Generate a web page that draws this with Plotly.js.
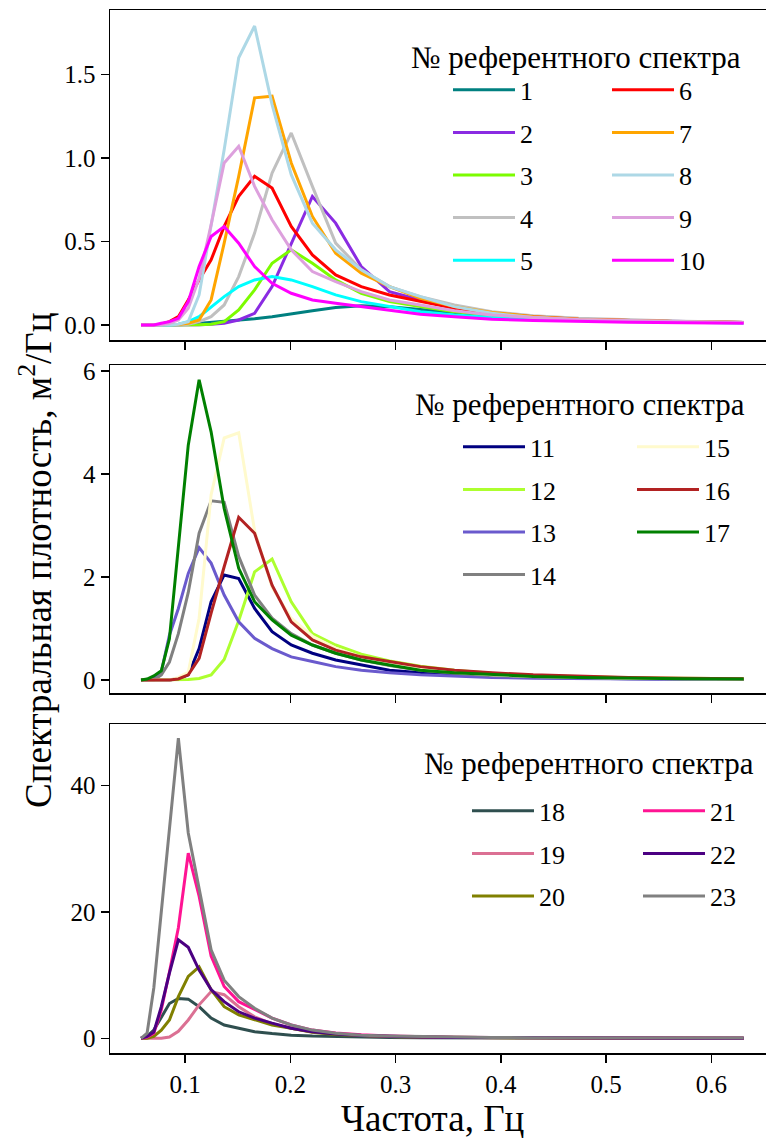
<!DOCTYPE html>
<html>
<head>
<meta charset="utf-8">
<script src="https://cdn.plot.ly/plotly-3.0.1.min.js"></script>
<style>html,body{margin:0;padding:0;background:#fff;}#chart{width:766px;height:1138px;}</style>
</head>
<body>
<div id="chart"></div>
<script>
// Frequencies, Hz
const freq = [0.0582, 0.0640, 0.0704, 0.0775, 0.0852, 0.0937, 0.1031, 0.1134, 0.1248, 0.1372, 0.1510, 0.1661, 0.1827, 0.2009, 0.2210, 0.2431, 0.2674, 0.2942, 0.3236, 0.3559, 0.3915, 0.4307, 0.4738, 0.5211, 0.5733, 0.6306];

// Panel 1: spectra 1-10
const s1  = [0,0,0,0,0,0.002,0.005,0.01,0.015,0.02,0.028,0.038,0.05,0.065,0.085,0.105,0.115,0.11,0.095,0.075,0.055,0.042,0.033,0.026,0.02,0.015];
const s2  = [0,0,0,0,0,0,0,0.002,0.005,0.01,0.03,0.07,0.23,0.49,0.77,0.61,0.35,0.2,0.15,0.1,0.07,0.05,0.035,0.027,0.02,0.015];
const s3  = [0,0,0,0,0,0,0,0.002,0.005,0.02,0.09,0.21,0.37,0.45,0.37,0.27,0.19,0.14,0.11,0.08,0.06,0.045,0.035,0.027,0.02,0.015];
const s4  = [0,0,0,0,0,0,0.005,0.02,0.05,0.12,0.29,0.55,0.91,1.15,0.83,0.49,0.33,0.23,0.17,0.12,0.08,0.055,0.04,0.03,0.022,0.016];
const s5  = [0,0,0,0,0,0.005,0.02,0.05,0.11,0.17,0.23,0.27,0.29,0.27,0.23,0.18,0.14,0.11,0.08,0.06,0.045,0.035,0.027,0.021,0.016,0.012];
const s6  = [0,0,0,0.005,0.02,0.05,0.15,0.27,0.39,0.59,0.77,0.89,0.82,0.59,0.42,0.30,0.23,0.18,0.14,0.10,0.07,0.05,0.035,0.027,0.02,0.015];
const s7  = [0,0,0,0,0,0.003,0.01,0.03,0.15,0.49,0.89,1.36,1.37,0.97,0.65,0.43,0.31,0.23,0.16,0.11,0.075,0.05,0.035,0.027,0.02,0.015];
const s8  = [0,0,0,0,0,0.005,0.02,0.18,0.6,1.05,1.6,1.79,1.32,0.90,0.61,0.45,0.33,0.23,0.17,0.11,0.07,0.045,0.03,0.024,0.018,0.014];
const s9  = [0,0,0,0,0.01,0.03,0.1,0.28,0.6,0.97,1.07,0.83,0.63,0.45,0.32,0.26,0.2,0.15,0.12,0.085,0.06,0.045,0.033,0.026,0.02,0.015];
const s10 = [0,0,0,0.01,0.02,0.04,0.14,0.35,0.53,0.59,0.49,0.35,0.25,0.19,0.15,0.13,0.11,0.085,0.065,0.05,0.035,0.027,0.02,0.016,0.013,0.01];

// Panel 2: spectra 11-17
const s11 = [0,0,0,0,0,0.03,0.1,0.61,1.52,2.04,1.97,1.39,0.94,0.68,0.52,0.39,0.29,0.19,0.14,0.1,0.07,0.05,0.035,0.025,0.018,0.013];
const s12 = [0,0,0,0,0,0,0.01,0.03,0.1,0.4,1.15,2.1,2.35,1.52,0.9,0.68,0.5,0.37,0.27,0.19,0.13,0.09,0.065,0.045,0.032,0.023];
const s13 = [0,0,0.03,0.16,0.87,1.39,2.07,2.57,2.27,1.65,1.13,0.81,0.61,0.45,0.36,0.26,0.19,0.14,0.1,0.07,0.05,0.035,0.025,0.018,0.013,0.009];
const s14 = [0,0,0,0.1,0.35,0.9,1.7,2.85,3.48,3.45,2.4,1.65,1.2,0.9,0.68,0.52,0.39,0.28,0.19,0.13,0.09,0.065,0.045,0.032,0.023,0.016];
const s15 = [0,0,0,0,0,0.05,0.15,1.2,3.6,4.7,4.8,2.9,1.8,1.2,0.85,0.62,0.45,0.32,0.22,0.15,0.1,0.07,0.05,0.035,0.025,0.018];
const s16 = [0,0,0,0,0,0.02,0.1,0.42,1.3,2.2,3.16,2.85,1.84,1.13,0.78,0.58,0.45,0.36,0.26,0.19,0.14,0.1,0.07,0.05,0.035,0.025];
const s17 = [0,0.02,0.08,0.18,0.8,2.6,4.56,5.83,4.82,3.33,2.17,1.52,1.17,0.87,0.68,0.52,0.39,0.29,0.19,0.14,0.1,0.07,0.05,0.035,0.025,0.018];

// Panel 3: spectra 18-23
const s18 = [0,0.3,1.3,3.4,5.5,6.3,6.2,5.0,3.2,2.1,1.6,1.05,0.75,0.5,0.35,0.25,0.17,0.12,0.09,0.06,0.045,0.035,0.025,0.02,0.015,0.01];
const s19 = [0,0,0,0,0.2,1.1,2.9,5.3,7.4,6.9,5.0,3.4,2.3,1.6,1.0,0.7,0.45,0.3,0.2,0.14,0.1,0.07,0.05,0.035,0.025,0.018];
const s20 = [0,0,0.3,1.3,2.9,6.6,9.8,11.3,7.7,5.0,3.7,2.9,2.1,1.6,0.95,0.6,0.4,0.28,0.2,0.14,0.1,0.07,0.05,0.035,0.025,0.018];
const s21 = [0,0.2,0.8,4.5,10.5,17.5,29.3,22.5,13,8.2,5.8,4.5,3.2,2.1,1.3,0.85,0.55,0.37,0.25,0.17,0.12,0.085,0.06,0.045,0.032,0.023];
const s22 = [0,0.3,1,5,10.3,15.6,14.4,10.8,7.7,5.8,4.2,3.2,2.4,1.6,1.05,0.7,0.45,0.3,0.2,0.14,0.1,0.07,0.05,0.035,0.025,0.018];
const s23 = [0,0.8,8,20,33,47.5,32.5,24,14,9.2,6.6,4.75,3.2,2.1,1.3,0.8,0.5,0.35,0.25,0.18,0.13,0.1,0.07,0.05,0.04,0.03];

const names1 = ['1','2','3','4','5','6','7','8','9','10'];
const names2 = ['11','12','13','14','15','16','17'];
const names3 = ['18','19','20','21','22','23'];
const colors1 = ['#008080','#8a2be2','#7cfc00','#c0c0c0','#00ffff','#ff0000','#ffa500','#add8e6','#dda0dd','#ff00ff'];
const colors2 = ['#000080','#adff2f','#6a5acd','#808080','#fffacd','#b22222','#008000'];
const colors3 = ['#2f4f4f','#db7093','#808000','#ff1493','#4b0082','#808080'];
const series1 = [s1,s2,s3,s4,s5,s6,s7,s8,s9,s10];
const series2 = [s11,s12,s13,s14,s15,s16,s17];
const series3 = [s18,s19,s20,s21,s22,s23];
const legendTitle = '№ референтного спектра';
const xTitle = 'Частота, Гц';
const yTitle = 'Спектральная плотность, м<sup>2</sup>/Гц';
const xTicks = [0.1,0.2,0.3,0.4,0.5,0.6];

const FONT = 'Liberation Serif';
const traces = [];
function addPanel(series, names, colors, xa, ya, legA, legB, split) {
  series.forEach((s, i) => {
    traces.push({
      x: freq, y: s, type: 'scatter', mode: 'lines', name: names[i],
      xaxis: xa, yaxis: ya,
      line: {color: colors[i], width: 3},
      legend: i < split ? legA : legB,
      legendgroup: 'g' + names[i]
    });
  });
}
addPanel(series1, names1, colors1, 'x', 'y', 'legend', 'legend2', 5);
addPanel(series2, names2, colors2, 'x2', 'y2', 'legend3', 'legend4', 4);
addPanel(series3, names3, colors3, 'x3', 'y3', 'legend5', 'legend6', 3);

const H = 1138, W = 766, L = 110;
const px = v => (v - L) / (W - L);
const py = v => 1 - v / H;

const xBase = {
  range: [0.02877, 0.6518], tickvals: xTicks, ticktext: xTicks.map(v => v.toFixed(1)),
  ticks: 'outside', ticklen: 8, tickwidth: 1.5, tickcolor: '#000',
  showline: true, linecolor: '#000', linewidth: 1.5, mirror: true,
  showgrid: false, zeroline: false, showticklabels: false,
  tickfont: {family: FONT, size: 25, color: '#000'}
};
const yBase = {
  ticks: 'outside', ticklen: 8, tickwidth: 1.5, tickcolor: '#000',
  showline: true, linecolor: '#000', linewidth: 1.5, mirror: false,
  showgrid: false, zeroline: false,
  tickfont: {family: FONT, size: 25, color: '#000'}
};

const legBase = {
  font: {family: FONT, size: 26, color: '#000'},
  bgcolor: 'rgba(0,0,0,0)', borderwidth: 0,
  xanchor: 'left', yanchor: 'top', itemwidth: 62, tracegroupgap: 5.8
};
const legTitleFont = {family: FONT, size: 31, color: '#000'};
const axTitleFont = {family: FONT, size: 37, color: '#000'};

function ann(text, x, y, font, extra) {
  return Object.assign({text: text, xref: 'paper', yref: 'paper', x: px(x), y: py(y),
    xanchor: 'center', yanchor: 'middle', showarrow: false, font: font}, extra || {});
}

const layout = {
  width: W, height: H,
  margin: {l: L, r: 0, t: 0, b: 0},
  paper_bgcolor: '#fff', plot_bgcolor: '#fff',
  font: {family: FONT, color: '#000'},
  showlegend: true,
  xaxis:  Object.assign({}, xBase, {domain: [0, 1], anchor: 'y'}),
  xaxis2: Object.assign({}, xBase, {domain: [0, 1], anchor: 'y2'}),
  xaxis3: Object.assign({}, xBase, {domain: [0, 1], anchor: 'y3', showticklabels: true}),
  yaxis:  Object.assign({}, yBase, {domain: [py(340), py(10)], range: [-0.0898, 1.886], tickvals: [0,0.5,1,1.5], ticktext: ['0.0','0.5','1.0','1.5'], anchor: 'x'}),
  yaxis2: Object.assign({}, yBase, {domain: [py(693), py(365)], range: [-0.252, 6.117], tickvals: [0,2,4,6], anchor: 'x2'}),
  yaxis3: Object.assign({}, yBase, {domain: [py(1053), py(724)], range: [-2.327, 49.75], tickvals: [0,20,40], anchor: 'x3'}),
  legend:  Object.assign({}, legBase, {x: px(448), y: py(66.4)}),
  legend2: Object.assign({}, legBase, {x: px(607), y: py(66.4)}),
  legend3: Object.assign({}, legBase, {x: px(458), y: py(423.4)}),
  legend4: Object.assign({}, legBase, {x: px(632), y: py(423.4)}),
  legend5: Object.assign({}, legBase, {x: px(467), y: py(787.4)}),
  legend6: Object.assign({}, legBase, {x: px(638), y: py(787.4)}),
  annotations: [
    ann(legendTitle, 576, 57, legTitleFont),
    ann(legendTitle, 580, 405, legTitleFont),
    ann(legendTitle, 588.5, 763, legTitleFont),
    ann(xTitle, 432, 1118, axTitleFont),
    ann(yTitle, 35, 560, axTitleFont, {textangle: -90})
  ]
};

Plotly.newPlot('chart', traces, layout, {displayModeBar: false, staticPlot: true});
</script>
</body>
</html>
